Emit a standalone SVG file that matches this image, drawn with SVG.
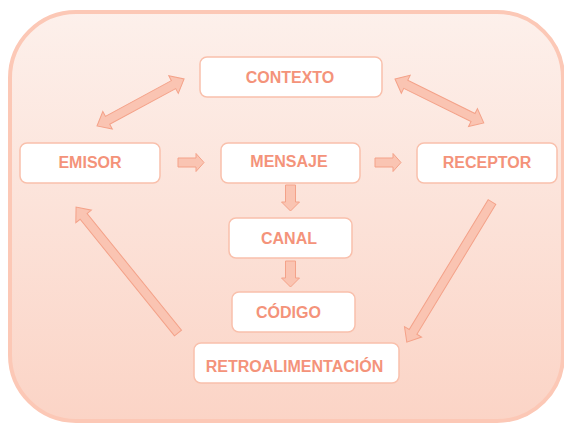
<svg xmlns="http://www.w3.org/2000/svg" width="564" height="424" viewBox="0 0 564 424">
  <defs>
    <linearGradient id="bg" x1="0" y1="0" x2="0" y2="1">
      <stop offset="0" stop-color="#fdf0eb"/>
      <stop offset="1" stop-color="#fbd4c6"/>
    </linearGradient>
    <style>
      .box { fill: #ffffff; stroke: #f9c0ac; stroke-width: 1.5; }
      .lbl { font-family: "Liberation Sans", Arial, sans-serif; font-weight: bold; font-size: 16px; fill: #f4937a; text-anchor: middle; stroke: #ffffff; stroke-width: 1.5; stroke-opacity: 0.6; paint-order: stroke; }
      .arr { fill: #fac4b2; stroke: #f4a289; stroke-width: 1; stroke-linejoin: miter; }
    </style>
  </defs>
  <rect width="564" height="424" fill="#ffffff"/>
  <rect x="10" y="12" width="553" height="409" rx="66" ry="66" fill="url(#bg)" stroke="#fcc8b6" stroke-width="4"/>

  <g id="connectors">
    <!-- EMISOR -> MENSAJE -->
    <polygon class="arr" transform="translate(178,162.5)" points="0,-4.5 18,-4.5 18,-9 26,0 18,9 18,4.5 0,4.5"/>
    <!-- MENSAJE -> RECEPTOR -->
    <polygon class="arr" transform="translate(375,162.5)" points="0,-4.5 18,-4.5 18,-9 26,0 18,9 18,4.5 0,4.5"/>
    <!-- MENSAJE -> CANAL -->
    <polygon class="arr" transform="translate(290.5,185) rotate(90)" points="0,-5 17,-5 17,-9 26,0 17,9 17,5 0,5"/>
    <!-- CANAL -> CODIGO -->
    <polygon class="arr" transform="translate(290.5,261) rotate(90)" points="0,-5 17,-5 17,-9 26,0 17,9 17,5 0,5"/>
    <!-- EMISOR <-> CONTEXTO -->
    <polygon class="arr" transform="translate(97,126) rotate(-28.4)" points="0,0 12,-10 12,-4.5 87,-4.5 87,-10 99,0 87,10 87,4.5 12,4.5 12,10"/>
    <!-- CONTEXTO <-> RECEPTOR -->
    <polygon class="arr" transform="translate(395,79) rotate(26.3)" points="0,0 12,-10 12,-4.5 87,-4.5 87,-10 99,0 87,10 87,4.5 12,4.5 12,10"/>
    <!-- RETROALIMENTACION -> EMISOR -->
    <polygon class="arr" transform="translate(178,333) rotate(-129)" points="0,-4.5 150,-4.5 150,-10 162,0 150,10 150,4.5 0,4.5"/>
    <!-- RECEPTOR -> RETROALIMENTACION -->
    <polygon class="arr" transform="translate(492,202) rotate(121.3)" points="0,-4.5 152,-4.5 152,-10 164,0 152,10 152,4.5 0,4.5"/>
  </g>

  <g id="contexto">
    <rect class="box" x="200" y="57" width="182" height="40" rx="7"/>
    <text class="lbl" x="290" y="82.5">CONTEXTO</text>
  </g>
  <g id="emisor">
    <rect class="box" x="20" y="143" width="140" height="40" rx="7"/>
    <text class="lbl" x="90" y="168">EMISOR</text>
  </g>
  <g id="mensaje">
    <rect class="box" x="221" y="143" width="139" height="40" rx="7"/>
    <text class="lbl" x="289" y="167">MENSAJE</text>
  </g>
  <g id="receptor">
    <rect class="box" x="417" y="143" width="140" height="40" rx="7"/>
    <text class="lbl" x="487" y="167.5">RECEPTOR</text>
  </g>
  <g id="canal">
    <rect class="box" x="229" y="218" width="123" height="40" rx="7"/>
    <text class="lbl" x="289" y="243.5">CANAL</text>
  </g>
  <g id="codigo">
    <rect class="box" x="232" y="292" width="123" height="40" rx="7"/>
    <text class="lbl" x="288.5" y="317.5">CÓDIGO</text>
  </g>
  <g id="retroalimentacion">
    <rect class="box" x="194" y="343" width="205" height="40" rx="7"/>
    <text class="lbl" x="294.5" y="371.5">RETROALIMENTACIÓN</text>
  </g>
</svg>
